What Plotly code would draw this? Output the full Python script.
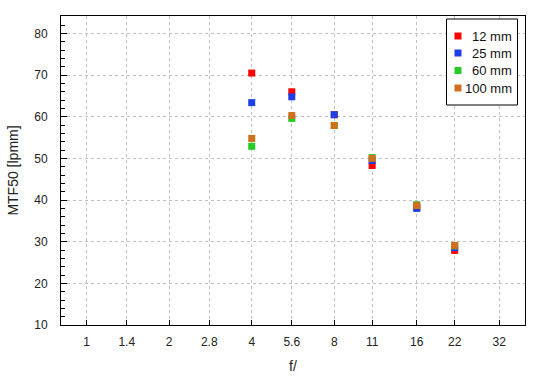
import plotly.graph_objects as go

f_stops = [4, 5.6, 8, 11, 16, 22]
tick_vals = [1, 1.4, 2, 2.8, 4, 5.6, 8, 11, 16, 22, 32]
tick_text = ["1", "1.4", "2", "2.8", "4", "5.6", "8", "11", "16", "22", "32"]

mtf_12mm = [70.5, 66.0, 60.5, 48.3, 38.2, 27.9]
mtf_25mm = [63.4, 64.8, 60.5, 49.5, 38.0, 28.6]
mtf_60mm = [52.9, 59.6, 57.9, 50.2, 38.9, 29.0]
mtf_100mm = [54.8, 60.3, 57.9, 50.0, 38.7, 29.1]

names = ["12 mm", "25 mm", "60 mm", "100 mm"]
values = [mtf_12mm, mtf_25mm, mtf_60mm, mtf_100mm]
colors = ["#ff0000", "#1f3fe6", "#26cc26", "#d0701e"]

# plot area geometry (px) used for the hand-drawn legend box
L, R, T, B = 61, 525, 16, 325
PW, PH = R - L, B - T
def px(x):
    return (x - L) / PW
def py(y):
    return 1 - (y - T) / PH

fig = go.Figure()
for name, vals, col in zip(names, values, colors):
    fig.add_trace(go.Scatter(
        x=f_stops, y=vals, mode="markers", name=name,
        marker=dict(symbol="square", size=7, color=col, line=dict(width=0)),
    ))

font_fam = "Liberation Sans, Arial, sans-serif"
shapes = [dict(type="rect", xref="paper", yref="paper",
               x0=px(446.5), x1=px(517.5), y0=py(105), y1=py(19),
               line=dict(color="black", width=1), fillcolor="white", layer="above")]
annotations = []
row_y = [36, 53, 70.5, 88]
for i, (name, col) in enumerate(zip(names, colors)):
    yc = row_y[i]
    shapes.append(dict(type="rect", xref="paper", yref="paper",
                       x0=px(454.5), x1=px(461.5), y0=py(yc + 3.5), y1=py(yc - 3.5),
                       line=dict(width=0), fillcolor=col, layer="above"))
    annotations.append(dict(xref="paper", yref="paper", x=px(513.5), y=py(yc),
                            xanchor="right", yanchor="middle", text=name, showarrow=False,
                            font=dict(family=font_fam, size=13, color="#111111")))

fig.update_layout(
    width=550, height=380,
    margin=dict(l=L, r=550 - R, t=T, b=380 - B),
    paper_bgcolor="white", plot_bgcolor="white",
    font=dict(family=font_fam, size=12, color="#222222"),
    showlegend=False,
    shapes=shapes, annotations=annotations,
    xaxis=dict(
        type="log", range=[-0.0937, 1.599],
        tickvals=tick_vals, ticktext=tick_text,
        ticks="inside", ticklen=5, tickcolor="black",
        showline=True, linecolor="black", linewidth=1, mirror=True,
        showgrid=True, gridcolor="#c0c0c0", griddash="3px,3px", gridwidth=1,
        zeroline=False, ticklabelstandoff=6, automargin=False,
        title=dict(text="f/", standoff=12),
    ),
    yaxis=dict(
        range=[10, 84.2], tickvals=list(range(10, 81, 10)),
        ticks="inside", ticklen=6, tickcolor="black",
        minor=dict(ticks="inside", ticklen=4, dtick=2, tickcolor="black", showgrid=False),
        showline=True, linecolor="black", linewidth=1, mirror=True,
        showgrid=True, gridcolor="#c0c0c0", griddash="3px,3px", gridwidth=1,
        zeroline=False, ticklabelstandoff=10, automargin=False,
        title=dict(text="MTF50 [lpmm]", standoff=12),
    ),
)

fig.write_html("out.html", config={"displayModeBar": False},
               post_script="document.body.style.margin='0';")
